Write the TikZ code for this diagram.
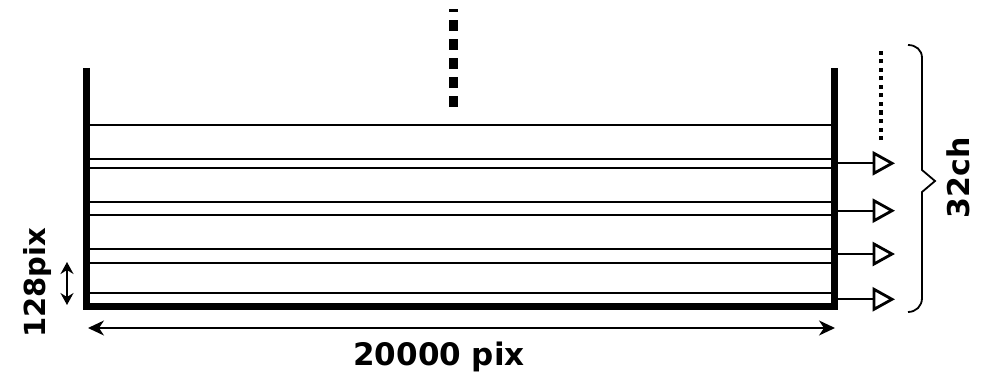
\documentclass[tikz,border=0pt]{standalone}
\usepackage{fontspec}
\newfontfamily\lblfont{DejaVu Sans}
\usetikzlibrary{arrows.meta}
\begin{document}
\begin{tikzpicture}[x=1pt,y=-1pt,
  wall/.style={line width=7pt, line join=miter},
  chan/.style={line width=2.1pt},
  outline/.style={line width=1.8pt},
  outtri/.style={line width=2.8pt, line join=miter},
  dimline/.style={line width=1.8pt, {Stealth[length=16pt,width=15pt,inset=5pt]}-{Stealth[length=16pt,width=15pt,inset=5pt]}},
  smalldim/.style={line width=1.8pt, {Stealth[length=12pt,width=13pt,inset=4pt]}-{Stealth[length=12pt,width=13pt,inset=4pt]}},
  bigdots/.style={line width=8.5pt, dash pattern=on 10.5pt off 8.5pt},
  smalldots/.style={line width=4.5pt, dash pattern=on 4pt off 4.5pt},
  bracepath/.style={line width=1.8pt},
  lbl/.style={font=\lblfont\bfseries\fontsize{31}{31}\selectfont, inner sep=0pt},
  lblv/.style={font=\lblfont\bfseries\fontsize{29}{29}\selectfont, inner sep=0pt, rotate=90, anchor=base}
]
\useasboundingbox (0,0) rectangle (981,377);
% walls
\coordinate (LT) at (86,68);
\coordinate (LB) at (86,306);
\coordinate (RB) at (834,306);
\coordinate (RT) at (834,68);
\draw[wall] (LT) -- (LB) -- (RB) -- (RT);
% channel lines
\foreach \y [count=\i] in {125,159,168,202,215,249,263,293} {
  \coordinate (cl\i) at (86,\y);
  \coordinate (cr\i) at (834,\y);
  \draw[chan] (cl\i) -- (cr\i);
}
% outputs
\foreach \y [count=\i] in {163.3,210.7,254,299.3} {
  \coordinate (os\i) at (834,\y);
  \coordinate (ob\i) at (874,\y);
  \draw[outline] (os\i) -- (ob\i);
  \draw[outtri] (874,\y-10) -- (892,\y) -- (874,\y+10) -- cycle;
}
% dotted lines
\coordinate (td1) at (453.5,107);
\coordinate (td2) at (453.5,9);
\draw[bigdots] (td1) -- (td2);
\coordinate (rd1) at (881,140);
\coordinate (rd2) at (881,48);
\draw[smalldots] (rd1) -- (rd2);
% brace
\coordinate (b0) at (908,45);
\coordinate (b1) at (922,58);
\coordinate (b2) at (922,170);
\coordinate (btip) at (935,181);
\coordinate (b3) at (922,192);
\coordinate (b4) at (922,298);
\coordinate (b5) at (908,312);
\draw[bracepath] (b0) .. controls (916,45) and (922,50) .. (b1) -- (b2) -- (btip) -- (b3) -- (b4) .. controls (922,306) and (916,312) .. (b5);
% dimensions
\coordinate (d1) at (88,328);
\coordinate (d2) at (835,328);
\draw[dimline] (d1) -- (d2);
\coordinate (s1) at (67,262);
\coordinate (s2) at (67,305);
\draw[smalldim] (s1) -- (s2);
% labels
\node[lbl, anchor=base] (wlabel) at (439,365) {20000 pix};
\node[lblv] (hlabel) at (45,283) {128pix};
\node[lblv, font=\lblfont\bfseries\fontsize{30}{30}\selectfont] (clabel) at (969,178) {32ch};
\end{tikzpicture}
\end{document}
